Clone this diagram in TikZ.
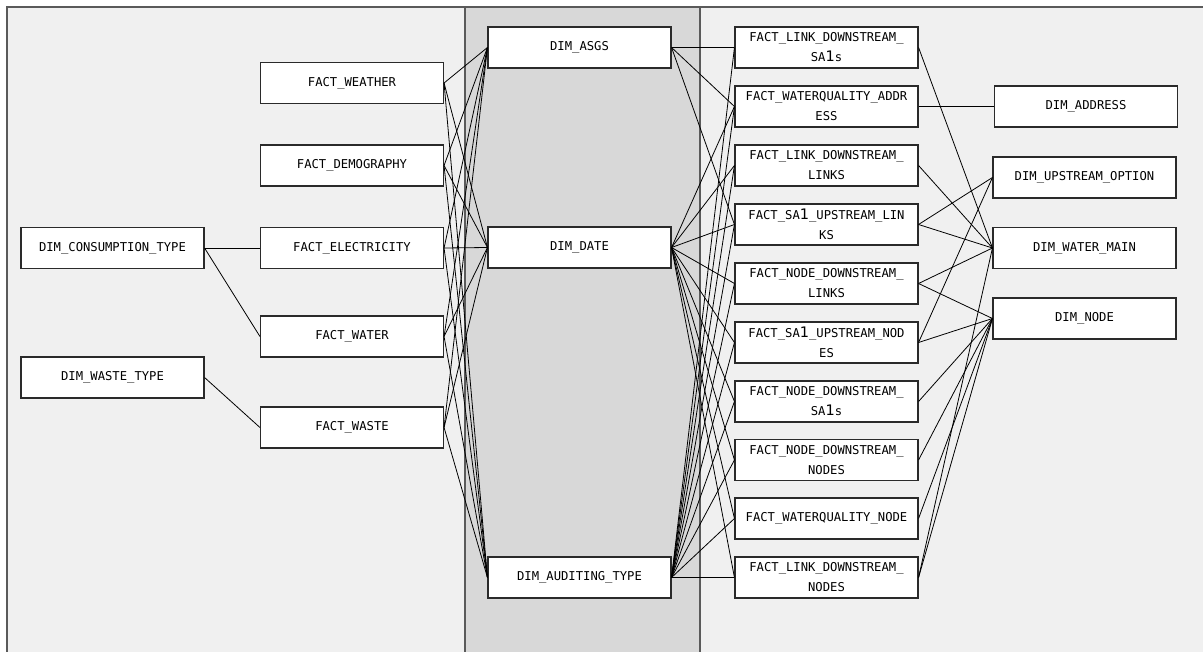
\documentclass[tikz,border=0pt]{standalone}
\usepackage{fontspec}
\setmonofont{DejaVu Sans Mono}
\newfontfamily\onefont{DejaVu Sans}
\newcommand\onedig{{\onefont\fontsize{14.5bp}{20bp}\selectfont 1}}
\definecolor{lpanel}{HTML}{F0F0F0}
\definecolor{mpanel}{HTML}{D8D8D8}
\definecolor{pborder}{HTML}{5A5A5A}
\definecolor{bborder}{HTML}{2A2A2A}
\begin{document}
\begin{tikzpicture}[x=1bp,y=-1bp,
  tbl/.style={draw=bborder, line width=1.1bp, fill=white, minimum width=183bp,
    minimum height=41bp, inner sep=0pt, align=center,
    font=\ttfamily\fontsize{12.2bp}{20bp}\selectfont},
  rel/.style={draw=black, line width=0.8bp},
  panel/.style={draw=pborder, line width=1.5bp}]
\useasboundingbox (0,0) rectangle (1203,652);
\begin{scope}
\clip (0,0) rectangle (1203,652);
\fill[white] (0,0) rectangle (1203,652);
\fill[lpanel] (7,7) rectangle (465,700);
\fill[mpanel] (465,7) rectangle (700,700);
\fill[lpanel] (700,7) rectangle (1230,700);
\draw[panel] (7,700) -- (7,7) -- (1230,7);
\draw[panel] (465,7) -- (465,700);
\draw[panel] (700,7) -- (700,700);
\end{scope}

% left dims
\node[tbl] (dct) at (112.5,248) {DIM\_CONSUMPTION\_TYPE};
\node[tbl] (dwt) at (112.5,377.5) {DIM\_WASTE\_TYPE};
% left facts
\node[tbl] (fw)  at (352,83)    {FACT\_WEATHER};
\node[tbl] (fd)  at (352,165.5) {FACT\_DEMOGRAPHY};
\node[tbl] (fe)  at (352,248)   {FACT\_ELECTRICITY};
\node[tbl] (fwa) at (352,336.5) {FACT\_WATER};
\node[tbl] (fws) at (352,427.5) {FACT\_WASTE};
% middle dims
\node[tbl] (asgs) at (579.5,47.5)  {DIM\_ASGS};
\node[tbl] (date) at (579.5,247.5) {DIM\_DATE};
\node[tbl] (aud)  at (579.5,577.5) {DIM\_AUDITING\_TYPE};
% right facts
\node[tbl] (r1)  at (826.5,47.5)  {FACT\_LINK\_DOWNSTREAM\_\\SA\onedig s};
\node[tbl] (r2)  at (826.5,106.5) {FACT\_WATERQUALITY\_ADDR\\ESS};
\node[tbl] (r3)  at (826.5,165.5) {FACT\_LINK\_DOWNSTREAM\_\\LINKS};
\node[tbl] (r4)  at (826.5,224.5) {FACT\_SA\onedig\_UPSTREAM\_LIN\\KS};
\node[tbl] (r5)  at (826.5,283.5) {FACT\_NODE\_DOWNSTREAM\_\\LINKS};
\node[tbl] (r6)  at (826.5,342.5) {FACT\_SA\onedig\_UPSTREAM\_NOD\\ES};
\node[tbl] (r7)  at (826.5,401.5) {FACT\_NODE\_DOWNSTREAM\_\\SA\onedig s};
\node[tbl] (r8)  at (826.5,460)   {FACT\_NODE\_DOWNSTREAM\_\\NODES};
\node[tbl] (r9)  at (826.5,518.5) {FACT\_WATERQUALITY\_NODE};
\node[tbl] (r10) at (826.5,577.5) {FACT\_LINK\_DOWNSTREAM\_\\NODES};
% right dims
\node[tbl] (addr) at (1086,106.5)  {DIM\_ADDRESS};
\node[tbl] (upo)  at (1084.5,177.5) {DIM\_UPSTREAM\_OPTION};
\node[tbl] (wm)   at (1084.5,248)   {DIM\_WATER\_MAIN};
\node[tbl] (nd)   at (1084.5,318.5) {DIM\_NODE};

% left connectors
\draw[rel] (dct.east) -- (fe.west);
\draw[rel] (dct.east) -- (fwa.west);
\draw[rel] (dwt.east) -- (fws.west);
\foreach \f in {fw,fd,fe,fwa,fws}
  \foreach \d in {asgs,date,aud}
    \draw[rel] (\f.east) -- (\d.west);
% middle to right facts
\foreach \r in {r1,r2,r4}
  \draw[rel] (asgs.east) -- (\r.west);
\foreach \r in {r2,r3,r4,r5,r6,r7,r8,r9,r10}
  \draw[rel] (date.east) -- (\r.west);
\foreach \r in {r1,r2,r3,r4,r5,r6,r7,r8,r9,r10}
  \draw[rel] (aud.east) -- (\r.west);
% right facts to right dims
\draw[rel] (r1.east) -- (wm.west);
\draw[rel] (r2.east) -- (addr.west);
\draw[rel] (r3.east) -- (wm.west);
\draw[rel] (r4.east) -- (upo.west);
\draw[rel] (r4.east) -- (wm.west);
\draw[rel] (r5.east) -- (wm.west);
\draw[rel] (r5.east) -- (nd.west);
\draw[rel] (r6.east) -- (upo.west);
\draw[rel] (r6.east) -- (nd.west);
\draw[rel] (r7.east) -- (nd.west);
\draw[rel] (r8.east) -- (nd.west);
\draw[rel] (r9.east) -- (nd.west);
\draw[rel] (r10.east) -- (nd.west);
\draw[rel] (r10.east) -- (wm.west);
\end{tikzpicture}
\end{document}
